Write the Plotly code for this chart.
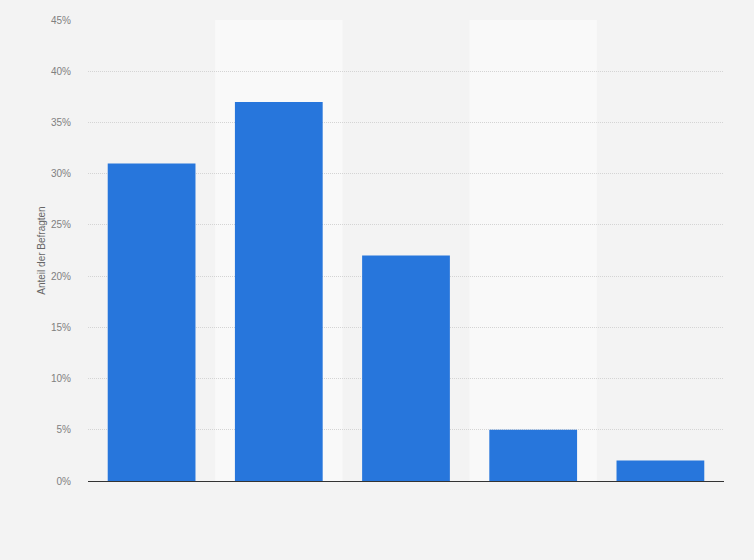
import plotly.graph_objects as go

categories = ["Kategorie 1", "Kategorie 2", "Kategorie 3", "Kategorie 4", "Kategorie 5"]
values = [31, 37, 22, 5, 2]
y_ticks = [0, 5, 10, 15, 20, 25, 30, 35, 40, 45]
y_tick_labels = [f"{t}%" for t in y_ticks]

fig = go.Figure()
fig.add_trace(go.Bar(
    x=categories, y=values,
    marker=dict(color="#2776dc", line=dict(width=0)),
    width=0.69,
    hoverinfo="x+y",
))

shapes = []
for i in (1, 3):
    shapes.append(dict(type="rect", xref="x", yref="paper", x0=i - 0.5, x1=i + 0.5, y0=0, y1=1,
                       fillcolor="#f9f9f9", line=dict(width=0), layer="below"))

fig.update_layout(
    width=754, height=560,
    margin=dict(l=88, r=30, t=20, b=79),
    paper_bgcolor="#f3f3f3",
    plot_bgcolor="#f3f3f3",
    shapes=shapes,
    showlegend=False,
    font=dict(family="Liberation Sans, Arial, sans-serif", color="#666666", size=10),
    xaxis=dict(showticklabels=False, showgrid=False, zeroline=False,
               showline=True, linecolor="#333333", linewidth=1, ticks=""),
    yaxis=dict(range=[0, 45], tickvals=y_ticks, ticktext=y_tick_labels,
               showgrid=True, gridcolor="#d4d4d4", griddash="1px,1px", gridwidth=1,
               zeroline=False, ticks="", ticklabelstandoff=16,
               title=dict(text="Anteil der Befragten", font=dict(size=10, color="#666666"), standoff=3),
               tickfont=dict(size=10, color="#808080")),
    bargap=0.31,
)

fig.write_html("out.html", config={"displayModeBar": False},
               post_script="document.body.style.margin='0';document.body.style.background='#f3f3f3';")
